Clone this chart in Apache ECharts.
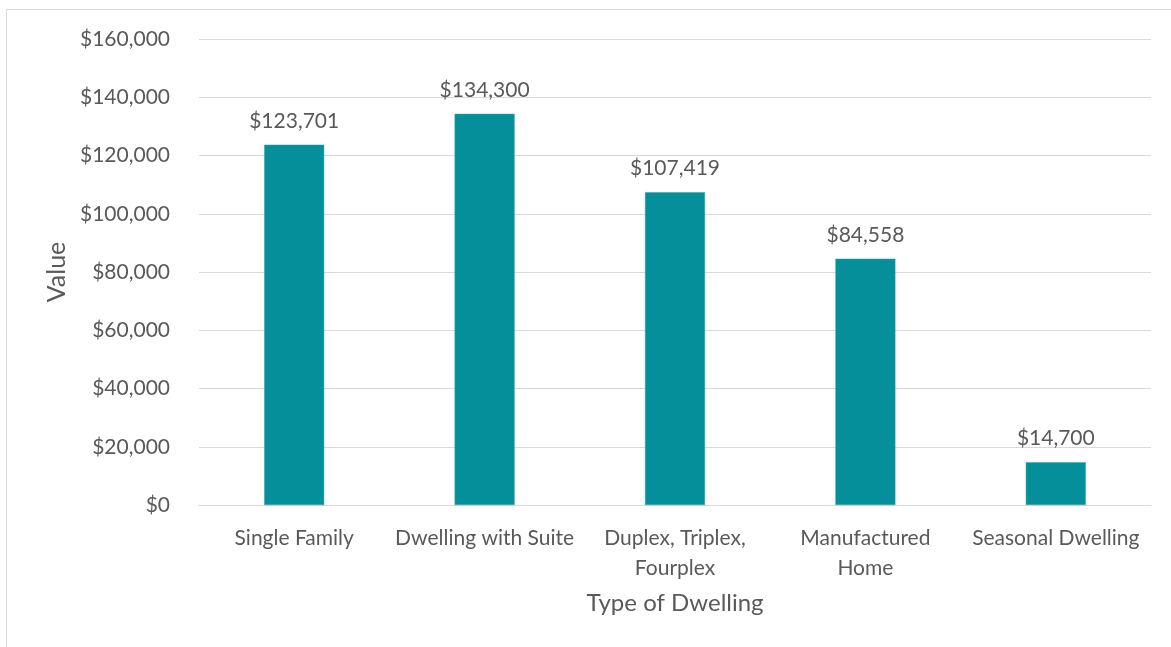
<!DOCTYPE html>
<html>
<head>
<meta charset="utf-8">
<script src="https://cdn.jsdelivr.net/npm/echarts@6/dist/echarts.min.js"></script>
<style>
  html, body { margin: 0; padding: 0; background: #ffffff; }
  #chart { width: 1171px; height: 647px; }
</style>
</head>
<body>
<div id="chart"></div>
<script>
// Average assessed value by dwelling type
const categories = [
  'Single Family',
  'Dwelling with Suite',
  'Duplex, Triplex,\nFourplex',
  'Manufactured\nHome',
  'Seasonal Dwelling'
];
const values = [123701, 134300, 107419, 84558, 14700];
const yTicks = [0, 20000, 40000, 60000, 80000, 100000, 120000, 140000, 160000];

const fontFamily = 'Lato, "Open Sans", sans-serif';
const textColor = '#595959';
const money = v => '$' + Math.round(v).toLocaleString('en-US');

const chart = echarts.init(document.getElementById('chart'), null, { renderer: 'canvas' });

chart.setOption({
  animation: false,
  backgroundColor: '#ffffff',
  textStyle: { fontFamily: fontFamily },
  graphic: [{
    type: 'rect',
    shape: { x: 6.5, y: 9.5, width: 1200, height: 700 },
    style: { fill: 'none', stroke: '#d9d9d9', lineWidth: 1 },
    silent: true,
    z: -1
  }],
  grid: { left: 199, right: 20, top: 39, bottom: 142 },
  xAxis: {
    type: 'category',
    data: categories,
    name: 'Type of Dwelling',
    nameLocation: 'middle',
    nameGap: 86,
    nameTextStyle: { fontSize: 24, color: textColor, fontFamily: fontFamily },
    axisLine: { show: true, lineStyle: { color: '#d9d9d9', width: 1 } },
    axisTick: { show: false },
    axisLabel: {
      interval: 0,
      margin: 18,
      fontSize: 21,
      lineHeight: 30,
      color: textColor,
      fontFamily: fontFamily
    }
  },
  yAxis: {
    type: 'value',
    min: yTicks[0],
    max: yTicks[yTicks.length - 1],
    interval: yTicks[1] - yTicks[0],
    name: 'Value',
    nameLocation: 'middle',
    nameGap: 130,
    nameRotate: 90,
    nameTextStyle: { fontSize: 25, color: textColor, fontFamily: fontFamily },
    axisLine: { show: false },
    axisTick: { show: false },
    splitLine: { lineStyle: { color: '#d9d9d9', width: 1 } },
    axisLabel: {
      margin: 29,
      fontSize: 21,
      color: textColor,
      fontFamily: fontFamily,
      formatter: money
    }
  },
  series: [{
    type: 'bar',
    data: values,
    barWidth: '31.5%',
    itemStyle: { color: '#058f9a', borderColor: '#2aa0aa', borderWidth: 0.5 },
    label: {
      show: true,
      position: 'top',
      distance: 13,
      fontSize: 21,
      color: textColor,
      fontFamily: fontFamily,
      formatter: p => money(p.value)
    }
  }]
});
</script>
</body>
</html>
